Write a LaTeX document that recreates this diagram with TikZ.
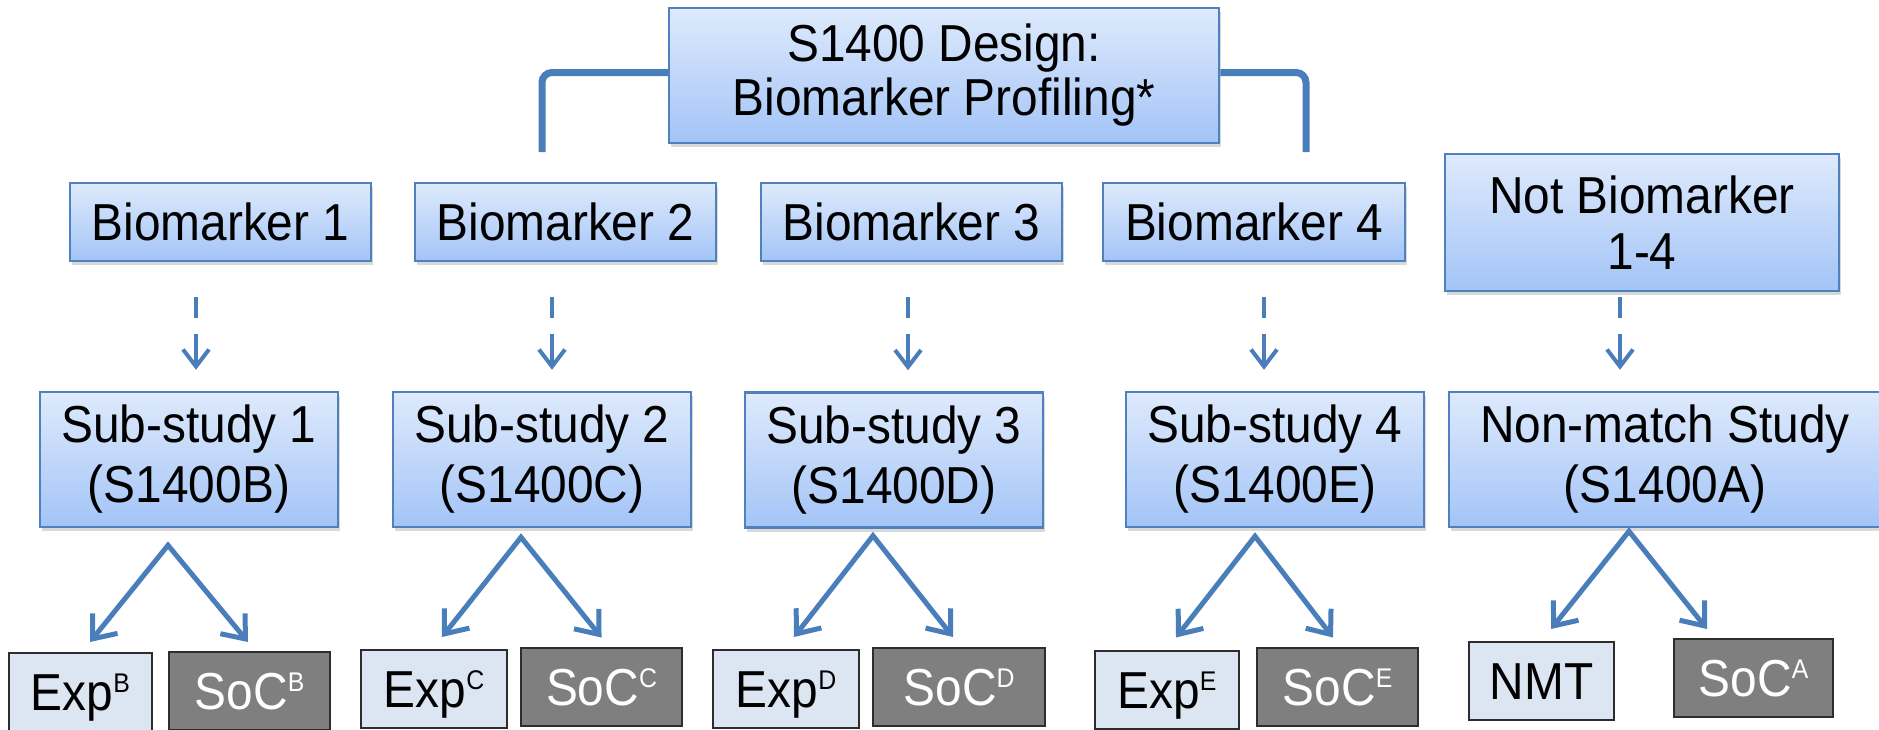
\documentclass[tikz,border=0pt]{standalone}
\usepackage{fontspec}
\setmainfont{Liberation Sans}[FakeStretch=0.92]
\usetikzlibrary{arrows.meta,shadows}

\definecolor{linkblue}{RGB}{74,126,187}
\definecolor{boxline}{RGB}{79,129,189}
\definecolor{boxtop}{RGB}{222,234,252}
\definecolor{boxbot}{RGB}{163,196,247}
\definecolor{expfill}{RGB}{220,230,242}
\definecolor{socfill}{RGB}{127,127,127}
\definecolor{leafline}{RGB}{45,45,45}

% superscript letter of the arms
\newcommand{\armidx}[1]{\raisebox{18pt}{\fontsize{27}{27}\selectfont #1}}

\tikzset{
  bluebox/.style={draw=boxline, line width=2.5pt, top color=boxtop, bottom color=boxbot,
    align=center, inner sep=0pt, font=\fontsize{52}{60}\selectfont,
    drop shadow={shadow xshift=2pt, shadow yshift=-4pt, opacity=0.3}},
  expbox/.style={draw=leafline, line width=2pt, fill=expfill, inner sep=0pt,
    minimum height=78pt, text height=37pt, text depth=0pt, font=\fontsize{52}{60}\selectfont},
  socbox/.style={expbox, fill=socfill, text=white},
  dasharrow/.style={draw=linkblue, line width=4pt, dash pattern=on 21pt off 16pt on 80pt off 0pt,
    -{Straight Barb[length=17pt,width=26pt]}},
  forkarrow/.style={draw=linkblue, line width=5pt,
    {Straight Barb[length=20pt,width=32pt]}-{Straight Barb[length=20pt,width=32pt]}},
  bracket/.style={draw=linkblue, line width=7pt, rounded corners=10pt}
}

\begin{document}
\begin{tikzpicture}[x=1pt,y=-1pt]
  \clip (0,0) rectangle (1879,729);

  % Top box and bracket
  \node[bluebox, minimum width=550pt, minimum height=135pt, font=\fontsize{52}{54}\selectfont]
    (design) at (944,75.5) {S1400 Design:\\Biomarker Profiling*};
  \coordinate (brleft) at (542,152);
  \coordinate (brright) at (1306,152);
  \draw[bracket] ([yshift=3pt]design.west) -| (brleft);
  \draw[bracket] ([yshift=3pt]design.east) -| (brright);

  % Biomarker row
  \node[bluebox, minimum width=301pt, minimum height=78pt] (bm1) at (220.5,222) {Biomarker 1};
  \node[bluebox, minimum width=301pt, minimum height=78pt] (bm2) at (565.5,222) {Biomarker 2};
  \node[bluebox, minimum width=301pt, minimum height=78pt] (bm3) at (911.5,222) {Biomarker 3};
  \node[bluebox, minimum width=302pt, minimum height=78pt] (bm4) at (1254,222) {Biomarker 4};
  \node[bluebox, minimum width=394pt, minimum height=137pt, font=\fontsize{52}{56}\selectfont]
    (notbm) at (1642,222.5) {Not Biomarker\\1-4};

  % Study row
  \node[bluebox, minimum width=298pt, minimum height=135pt] (sub1) at (189,459.5) {Sub-study 1\\(S1400B)};
  \node[bluebox, minimum width=298pt, minimum height=135pt] (sub2) at (542,459.5) {Sub-study 2\\(S1400C)};
  \node[bluebox, minimum width=298pt, minimum height=135pt] (sub3) at (894,460) {Sub-study 3\\(S1400D)};
  \node[bluebox, minimum width=298pt, minimum height=135pt] (sub4) at (1275,459.5) {Sub-study 4\\(S1400E)};
  \node[bluebox, minimum width=432pt, minimum height=135pt] (nonm) at (1665,459.5) {Non-match Study\\(S1400A)};

  % Arms
  \node[expbox, minimum width=143pt] (expB) at (80.5,692) {Exp\armidx{B}};
  \node[socbox, minimum width=161pt] (socB) at (249.5,691) {SoC\armidx{B}};
  \node[expbox, minimum width=146pt] (expC) at (434,689) {Exp\armidx{C}};
  \node[socbox, minimum width=161pt] (socC) at (601.5,686.5) {SoC\armidx{C}};
  \node[expbox, minimum width=146pt] (expD) at (786,689) {Exp\armidx{D}};
  \node[socbox, minimum width=172pt] (socD) at (959,687) {SoC\armidx{D}};
  \node[expbox, minimum width=144pt] (expE) at (1167,689.5) {Exp\armidx{E}};
  \node[socbox, minimum width=161pt] (socE) at (1337.5,686.5) {SoC\armidx{E}};
  \node[expbox, minimum width=145pt] (nmt) at (1541.5,681) {NMT};
  \node[socbox, minimum width=159pt] (socA) at (1753.5,678) {SoC\armidx{A}};

  % Dashed arrows biomarker -> study
  \draw[dasharrow] ([xshift=-24.5pt,yshift=-35pt]bm1.south) -- ([xshift=7pt,yshift=21pt]sub1.north);
  \draw[dasharrow] ([xshift=-13.5pt,yshift=-35pt]bm2.south) -- ([xshift=10pt,yshift=21pt]sub2.north);
  \draw[dasharrow] ([xshift=-3.5pt,yshift=-35pt]bm3.south) -- ([xshift=14pt,yshift=21pt]sub3.north);
  \draw[dasharrow] ([xshift=10pt,yshift=-35pt]bm4.south) -- ([xshift=-11pt,yshift=21pt]sub4.north);
  \draw[dasharrow] ([xshift=-22pt,yshift=-5pt]notbm.south) -- ([xshift=-45pt,yshift=21pt]nonm.north);

  % Forks study -> arms
  \draw[forkarrow] ([xshift=9.5pt,yshift=10pt]expB.north) -- ([xshift=-21pt,yshift=-17pt]sub1.south)
    -- ([xshift=-1.5pt,yshift=9pt]socB.north);
  \draw[forkarrow] ([xshift=8pt,yshift=12pt]expC.north) -- ([xshift=-21pt,yshift=-9pt]sub2.south)
    -- ([xshift=0pt,yshift=9pt]socC.north);
  \draw[forkarrow] ([xshift=8pt,yshift=12pt]expD.north) -- ([xshift=-21pt,yshift=-7pt]sub3.south)
    -- ([xshift=-6pt,yshift=10pt]socD.north);
  \draw[forkarrow] ([xshift=9pt,yshift=12pt]expE.north) -- ([xshift=-20pt,yshift=-8pt]sub4.south)
    -- ([xshift=-4.5pt,yshift=9pt]socE.north);
  \draw[forkarrow] ([xshift=9.5pt,yshift=12pt]nmt.north) -- ([xshift=-36pt,yshift=-3pt]nonm.south)
    -- ([xshift=-46.5pt,yshift=9pt]socA.north);
\end{tikzpicture}
\end{document}
